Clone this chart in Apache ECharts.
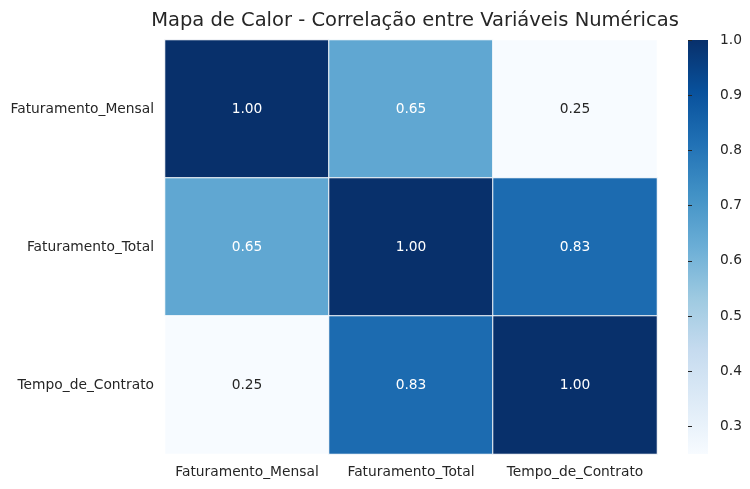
<!DOCTYPE html>
<html>
<head>
<meta charset="utf-8">
<script src="https://cdn.jsdelivr.net/npm/echarts@6/dist/echarts.min.js"></script>
<style>
html, body { margin: 0; padding: 0; background: #fff; }
#main { width: 750px; height: 489px; }
</style>
</head>
<body>
<div id="main"></div>
<script>
var variaveis = ['Faturamento_Mensal', 'Faturamento_Total', 'Tempo_de_Contrato'];
var linha_mensal = [1.00, 0.65, 0.25];
var linha_total = [0.65, 1.00, 0.83];
var linha_contrato = [0.25, 0.83, 1.00];
var escala_ticks = [0.3, 0.4, 0.5, 0.6, 0.7, 0.8, 0.9, 1.0];
var escala_min = 0.25;
var escala_max = 1.0;

var blues = ['#f7fbff', '#deebf7', '#c6dbef', '#9ecae1', '#6baed6', '#4292c6', '#2171b5', '#08519c', '#08306b'];

var linhas = [linha_mensal, linha_total, linha_contrato];
var dados = [];
for (var i = 0; i < linhas.length; i++) {
    for (var j = 0; j < linhas[i].length; j++) {
        var claro = linhas[i][j] < 0.5;
        dados.push({
            value: [j, i, linhas[i][j]],
            label: { color: claro ? '#262626' : '#ffffff' }
        });
    }
}

// barra de cores (do claro embaixo ao escuro em cima)
var paradas = blues.map(function (c, k) {
    return { offset: 1 - k / (blues.length - 1), color: c };
}).reverse();

var myChart = echarts.init(document.getElementById('main'));

myChart.setOption({
    backgroundColor: '#fff',
    animation: false,
    textStyle: { fontFamily: 'DejaVu Sans' },
    title: {
        text: 'Mapa de Calor - Correlação entre Variáveis Numéricas',
        left: 410,
        textAlign: 'center',
        top: 6,
        textStyle: { fontSize: 19.5, fontWeight: 'normal', color: '#262626', fontFamily: 'DejaVu Sans' }
    },
    grid: [
        { left: 165, top: 40, width: 492, height: 414 },
        { left: 688, top: 40, width: 20, height: 414 }
    ],
    graphic: [{
        type: 'rect',
        left: 688,
        top: 40,
        shape: { width: 20, height: 414 },
        style: { fill: new echarts.graphic.LinearGradient(0, 0, 0, 1, paradas) },
        silent: true
    }],
    xAxis: [
        {
            gridIndex: 0,
            type: 'category',
            data: variaveis,
            axisLine: { show: false },
            axisTick: { show: false },
            splitLine: { show: false },
            axisLabel: { color: '#262626', fontSize: 13.8, margin: 11, interval: 0 }
        },
        { gridIndex: 1, type: 'value', show: false, min: 0, max: 1 }
    ],
    yAxis: [
        {
            gridIndex: 0,
            type: 'category',
            data: variaveis,
            inverse: true,
            axisLine: { show: false },
            axisTick: { show: false },
            splitLine: { show: false },
            axisLabel: { color: '#262626', fontSize: 13.8, margin: 11, interval: 0 }
        },
        {
            gridIndex: 1,
            type: 'value',
            position: 'right',
            min: escala_min,
            max: escala_max,
            axisLine: { show: false },
            splitLine: { show: false },
            axisTick: {
                show: true,
                inside: false,
                customValues: escala_ticks,
                length: 4,
                lineStyle: { color: '#262626', width: 1 }
            },
            axisLabel: {
                customValues: escala_ticks,
                color: '#262626',
                fontSize: 13.8,
                margin: 12,
                formatter: function (v) { return v.toFixed(1); }
            }
        }
    ],
    visualMap: {
        type: 'continuous',
        show: false,
        min: escala_min,
        max: escala_max,
        seriesIndex: 0,
        inRange: { color: blues }
    },
    series: [{
        type: 'heatmap',
        xAxisIndex: 0,
        yAxisIndex: 0,
        data: dados,
        itemStyle: { borderColor: '#ffffff', borderWidth: 1 },
        label: {
            show: true,
            fontSize: 13.8,
            fontFamily: 'DejaVu Sans',
            formatter: function (p) { return p.value[2].toFixed(2); }
        },
        emphasis: { disabled: true }
    }]
});
</script>
</body>
</html>
